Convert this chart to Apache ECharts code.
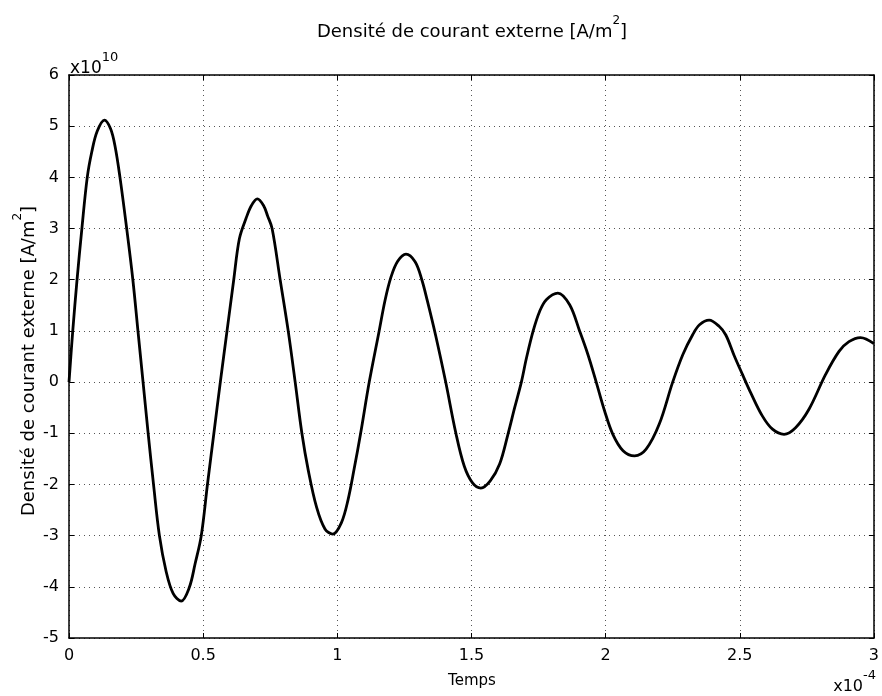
<!DOCTYPE html>
<html>
<head>
<meta charset="utf-8">
<script src="https://cdn.jsdelivr.net/npm/echarts@6/dist/echarts.min.js"></script>
<style>html,body{margin:0;padding:0;background:#fff}#c{width:882px;height:696px}</style>
</head>
<body>
<div id="c"></div>
<script>
// Time in units of 1e-4, density in units of 1e10 A/m^2
var timeValues = [0.000,0.014,0.030,0.048,0.068,0.085,0.105,0.132,0.155,0.172,0.190,0.215,0.238,0.257,0.276,0.295,0.315,0.337,0.362,0.388,0.418,0.448,0.470,0.493,0.516,0.540,0.564,0.589,0.614,0.635,0.660,0.680,0.702,0.725,0.740,0.757,0.787,0.817,0.843,0.868,0.892,0.923,0.954,0.983,1.015,1.040,1.063,1.087,1.119,1.156,1.178,1.200,1.225,1.256,1.290,1.315,1.335,1.367,1.404,1.442,1.473,1.504,1.535,1.570,1.605,1.636,1.661,1.686,1.705,1.730,1.754,1.779,1.822,1.866,1.903,1.934,1.965,1.996,2.027,2.065,2.108,2.151,2.200,2.250,2.288,2.325,2.350,2.386,2.423,2.448,2.479,2.510,2.541,2.584,2.622,2.665,2.708,2.758,2.820,2.870,2.907,2.950,3.000];
var densityValues = [0.0,1.0,2.0,3.0,4.0,4.5,4.9,5.12,4.95,4.6,4.0,3.0,2.0,1.0,0.0,-1.0,-2.0,-3.0,-3.7,-4.13,-4.28,-4.02,-3.55,-3.0,-2.0,-1.0,0.0,1.0,2.0,2.8,3.2,3.45,3.58,3.45,3.25,3.0,2.0,1.0,0.0,-1.0,-1.73,-2.45,-2.87,-2.97,-2.75,-2.3,-1.69,-1.0,0.0,1.0,1.6,2.05,2.36,2.5,2.35,2.0,1.6,0.9,0.0,-1.0,-1.64,-1.97,-2.07,-1.93,-1.6,-1.02,-0.5,0.0,0.47,1.0,1.38,1.61,1.74,1.51,1.0,0.54,0.0,-0.56,-1.02,-1.34,-1.44,-1.31,-0.82,0.0,0.54,0.93,1.12,1.21,1.09,0.92,0.52,0.15,-0.21,-0.66,-0.92,-1.02,-0.89,-0.53,0.15,0.6,0.79,0.87,0.75];
var xTicks = [0, 0.5, 1, 1.5, 2, 2.5, 3];
var yTicks = [-5, -4, -3, -2, -1, 0, 1, 2, 3, 4, 5, 6];
var titleText = 'Densité de courant externe [A/m';
var yNameText = 'Densité de courant externe [A/m';
var xNameText = 'Temps';

var FONT = 'DejaVu Sans';
var chart = echarts.init(document.getElementById('c'), null, {renderer: 'canvas'});
var seriesData = timeValues.map(function (t, i) { return [t, densityValues[i]]; });

var gridLine = {show: true, lineStyle: {color: '#555', type: [1, 4], width: 1}};
var axisLine = {show: true, onZero: false, lineStyle: {color: '#000', width: 1.5}};

function supText(main, sup, size, supSize, lh) {
  return {
    text: '{a|' + main + '}{s|' + sup + '}',
    rich: {a: {fontFamily: FONT, fontSize: size, fill: '#000', lineHeight: lh, verticalAlign: 'bottom'},
           s: {fontFamily: FONT, fontSize: supSize, fill: '#000', lineHeight: lh, verticalAlign: 'top'}}
  };
}

var titleRich = {a: {fontFamily: FONT, fontSize: 18, fill: '#000', lineHeight: 26, verticalAlign: 'bottom'},
                 s: {fontFamily: FONT, fontSize: 12, fill: '#000', lineHeight: 26, verticalAlign: 'top'}};

var mult1 = supText('x10', '10', 17, 13, 26);
var mult2 = supText('x10', '-4', 16, 13, 26);

chart.setOption({
  backgroundColor: '#fff',
  animation: false,
  grid: {left: 69, right: 7, top: 75, bottom: 58},
  xAxis: [{
    type: 'value', min: xTicks[0], max: xTicks[xTicks.length - 1], interval: 0.5,
    position: 'bottom',
    axisLine: axisLine,
    axisTick: {show: true, inside: true, length: 5, lineStyle: {color: '#000', width: 1}},
    axisLabel: {color: '#000', fontFamily: FONT, fontSize: 16, margin: 10},
    splitLine: gridLine
  }, {
    type: 'value', min: xTicks[0], max: xTicks[xTicks.length - 1], interval: 0.5,
    position: 'top',
    axisLine: axisLine,
    axisTick: {show: true, inside: true, length: 5, lineStyle: {color: '#000', width: 1}},
    axisLabel: {show: false},
    splitLine: {show: false}
  }],
  yAxis: [{
    type: 'value', min: yTicks[0], max: yTicks[yTicks.length - 1], interval: 1,
    position: 'left',
    axisLine: axisLine,
    axisTick: {show: true, inside: true, length: 5, lineStyle: {color: '#000', width: 1}},
    axisLabel: {color: '#000', fontFamily: FONT, fontSize: 16, margin: 10},
    splitLine: gridLine
  }, {
    type: 'value', min: yTicks[0], max: yTicks[yTicks.length - 1], interval: 1,
    position: 'right',
    axisLine: axisLine,
    axisTick: {show: true, inside: true, length: 5, lineStyle: {color: '#000', width: 1}},
    axisLabel: {show: false},
    splitLine: {show: false}
  }],
  series: [{
    type: 'line',
    xAxisIndex: 0, yAxisIndex: 0,
    data: seriesData,
    showSymbol: false,
    smooth: 0.35,
    lineStyle: {color: '#000', width: 2.8},
    z: 5
  }],
  graphic: [
    {type: 'text', x: 472, y: 28, style: {
      text: '{a|' + titleText + '}{s|2}{a|]}', align: 'center', verticalAlign: 'middle', rich: titleRich
    }},
    {type: 'text', x: 25, y: 361, rotation: Math.PI / 2, style: {
      text: '{a|' + yNameText + '}{s|2}{a|]}', align: 'center', verticalAlign: 'middle', rich: titleRich
    }},
    {type: 'text', x: 472, y: 681, style: {
      text: xNameText, align: 'center', verticalAlign: 'middle',
      fontFamily: FONT, fontSize: 15, fill: '#000'
    }},
    {type: 'text', x: 70, y: 64, style: {
      text: mult1.text, rich: mult1.rich, align: 'left', verticalAlign: 'middle'
    }},
    {type: 'text', x: 876, y: 682, style: {
      text: mult2.text, rich: mult2.rich, align: 'right', verticalAlign: 'middle'
    }}
  ]
});
</script>
</body>
</html>
